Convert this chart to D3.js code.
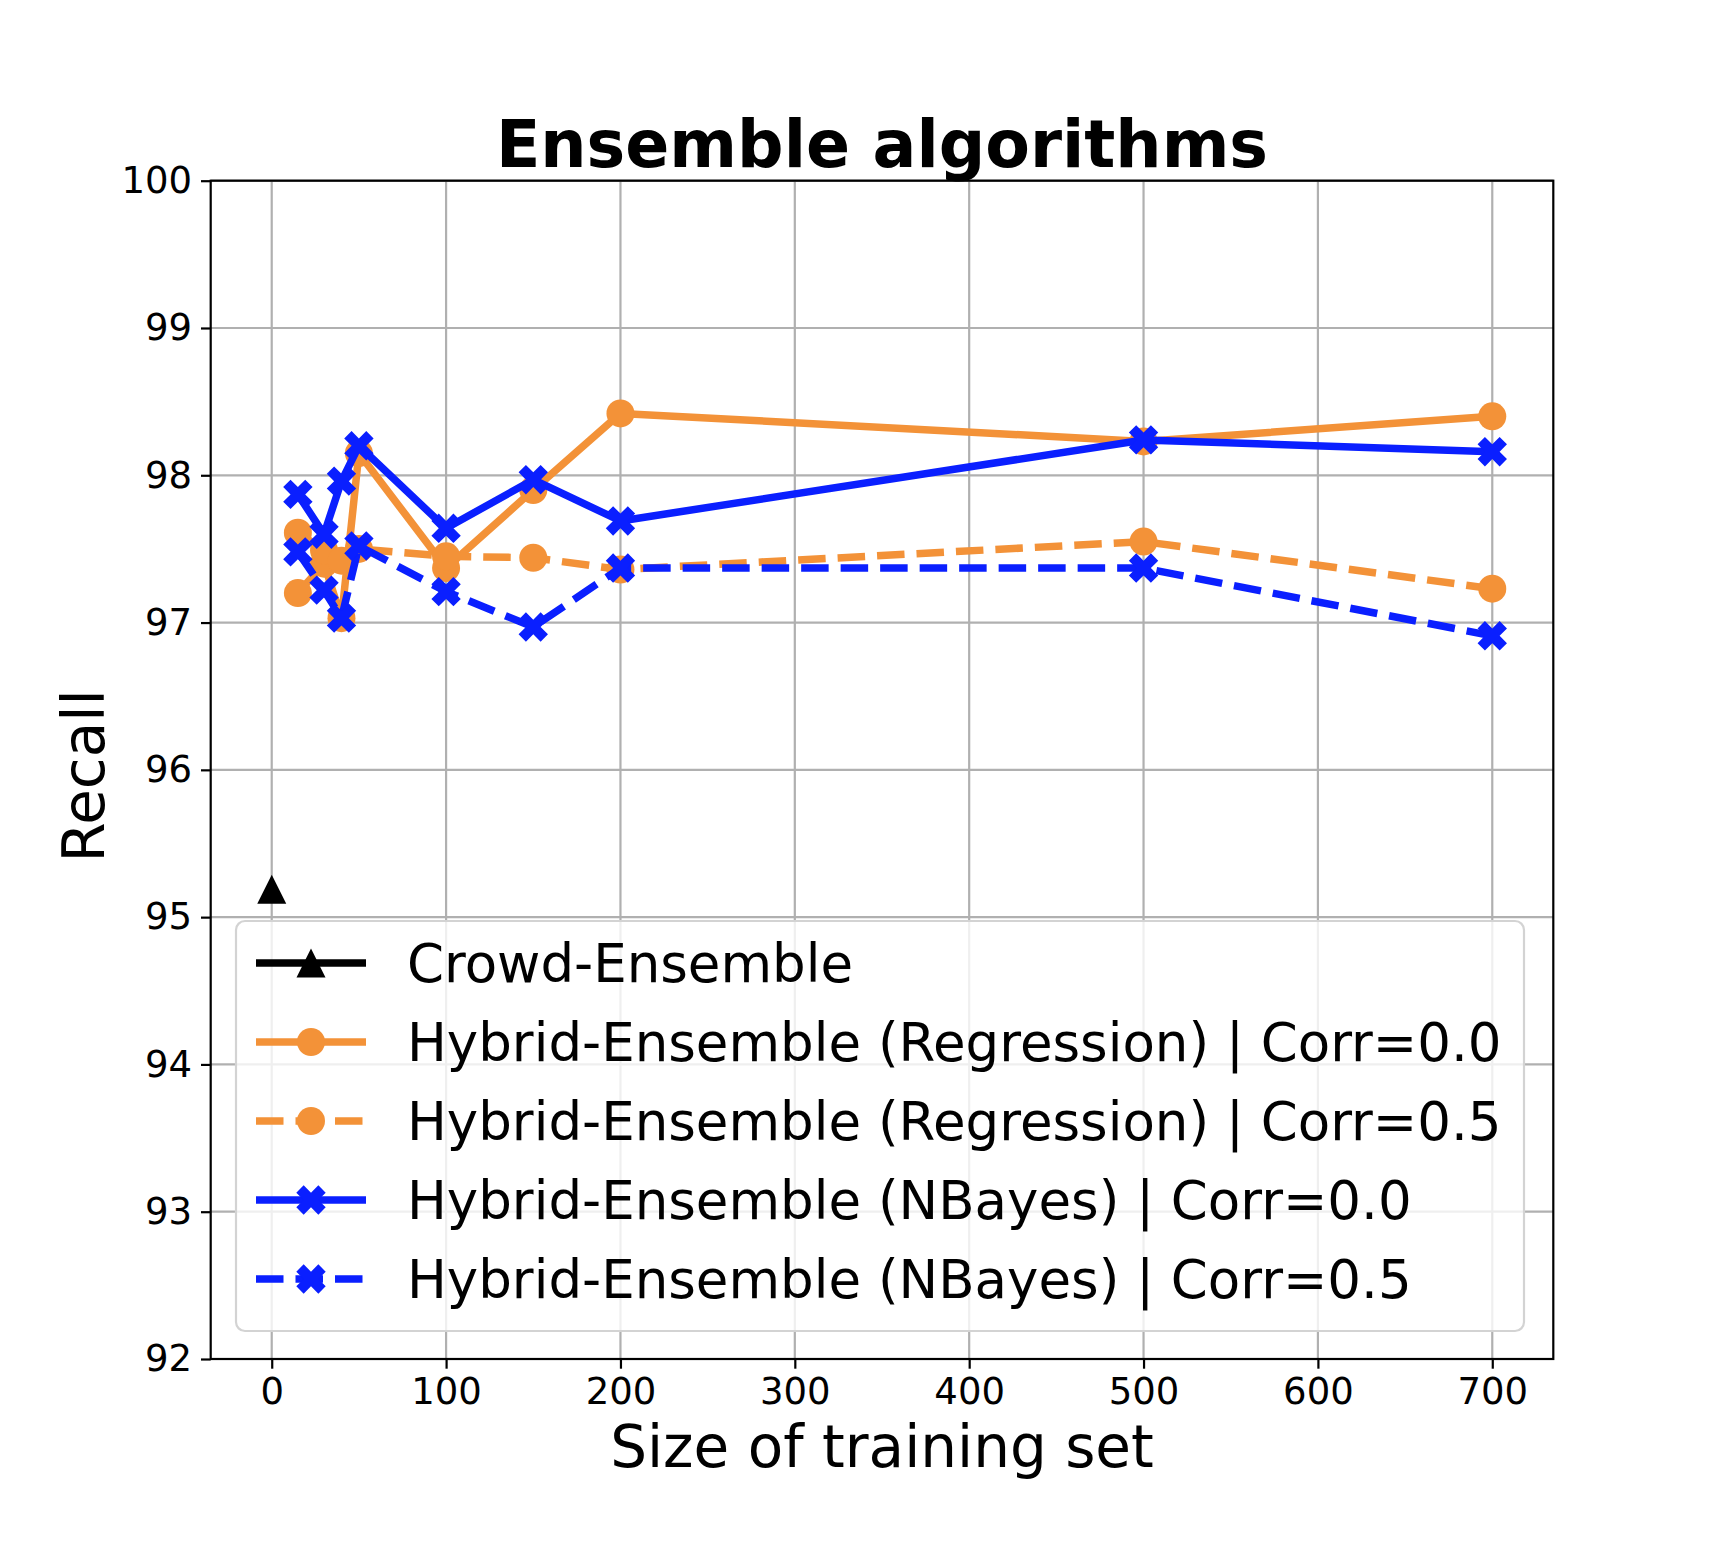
<!DOCTYPE html>
<html>
<head>
<meta charset="utf-8">
<script src="https://cdn.jsdelivr.net/npm/d3@7"></script>
<style>
  body { margin: 0; background: #fff; }
  svg { display: block; font-family: "DejaVu Sans", sans-serif; }
</style>
</head>
<body>
<div id="chart"></div>
<script>
// training set sizes
const sizes = [15, 30, 40, 50, 100, 150, 200, 500, 700];
const regCorr00 = [97.20, 97.40, 97.03, 98.15, 97.37, 97.90, 98.42, 98.23, 98.40];
const regCorr05 = [97.61, 97.49, 97.42, 97.50, 97.45, 97.44, 97.36, 97.55, 97.23];
const nbCorr00 = [97.87, 97.60, 97.96, 98.20, 97.64, 97.97, 97.69, 98.24, 98.16];
const nbCorr05 = [97.48, 97.22, 97.03, 97.52, 97.21, 96.97, 97.37, 97.37, 96.91];
const crowdSizes = [0];
const crowdRecall = [95.19];

const xTicks = [0, 100, 200, 300, 400, 500, 600, 700];
const yTicks = [92, 93, 94, 95, 96, 97, 98, 99, 100];

const W = 1722, H = 1554;
const plotL = 210.7, plotR = 1553.3, plotT = 180.7, plotB = 1359;

const orange = "#f39238", blue = "#0a1fff";

const series = [
  { name: "Crowd-Ensemble", xs: crowdSizes, ys: crowdRecall, color: "#000", dash: null, marker: "tri" },
  { name: "Hybrid-Ensemble (Regression) | Corr=0.0", xs: sizes, ys: regCorr00, color: orange, dash: null, marker: "circle" },
  { name: "Hybrid-Ensemble (Regression) | Corr=0.5", xs: sizes, ys: regCorr05, color: orange, dash: "27.5,12", marker: "circle" },
  { name: "Hybrid-Ensemble (NBayes) | Corr=0.0", xs: sizes, ys: nbCorr00, color: blue, dash: null, marker: "x" },
  { name: "Hybrid-Ensemble (NBayes) | Corr=0.5", xs: sizes, ys: nbCorr05, color: blue, dash: "27.5,12", marker: "x" }
];

const svg = d3.select("#chart").append("svg")
    .attr("width", W)
    .attr("height", H);

const x = d3.scaleLinear().domain([-35, 735]).range([plotL, plotR]);
const y = d3.scaleLinear().domain([92, 100]).range([plotB, plotT]);

// grid
svg.append("g")
  .selectAll("line")
  .data(xTicks)
  .join("line")
    .attr("x1", d => x(d)).attr("x2", d => x(d))
    .attr("y1", plotT).attr("y2", plotB)
    .attr("stroke", "#b0b0b0").attr("stroke-width", 2.2);
svg.append("g")
  .selectAll("line")
  .data(yTicks)
  .join("line")
    .attr("x1", plotL).attr("x2", plotR)
    .attr("y1", d => y(d)).attr("y2", d => y(d))
    .attr("stroke", "#b0b0b0").attr("stroke-width", 2.2);

// axes
const xAxis = svg.append("g")
    .attr("transform", `translate(0,${plotB})`)
    .call(d3.axisBottom(x).tickValues(xTicks).tickSize(9.7).tickPadding(9).tickSizeOuter(0));
const yAxis = svg.append("g")
    .attr("transform", `translate(${plotL},0)`)
    .call(d3.axisLeft(y).tickValues(yTicks).tickSize(9.7).tickPadding(9).tickSizeOuter(0));
[xAxis, yAxis].forEach(a => {
  a.select(".domain").remove();
  a.selectAll("line").attr("stroke", "#000").attr("stroke-width", 2.2);
  a.selectAll("text")
    .attr("fill", "#000")
    .style("font-size", "37px")
    .style("font-family", "DejaVu Sans, sans-serif");
});

function markerPath(type) {
  if (type === "circle") return d3.symbol(d3.symbolCircle, Math.PI * 14 * 14)();
  if (type === "tri") return "M0,-14.5 L14.5,14.5 L-14.5,14.5 Z";
  return d3.symbol(d3.symbolCross, 540)();
}

// lines + markers
const line = d3.line().x(d => x(d[0])).y(d => y(d[1]));
series.forEach(s => {
  const pts = s.xs.map((v, i) => [v, s.ys[i]]);
  const g = svg.append("g");
  g.append("path")
    .datum(pts)
    .attr("d", line)
    .attr("fill", "none")
    .attr("stroke", s.color)
    .attr("stroke-width", 7.5)
    .attr("stroke-linejoin", "round")
    .attr("stroke-dasharray", s.dash);
  g.selectAll("path.m")
    .data(pts)
    .join("path")
      .attr("class", "m")
      .attr("d", markerPath(s.marker))
      .attr("transform", d => `translate(${x(d[0])},${y(d[1])})` + (s.marker === "x" ? " rotate(45)" : ""))
      .attr("fill", s.color);
});

// frame
svg.append("rect")
    .attr("x", plotL).attr("y", plotT)
    .attr("width", plotR - plotL).attr("height", plotB - plotT)
    .attr("fill", "none").attr("stroke", "#000").attr("stroke-width", 2.2);

// legend
const legend = svg.append("g");
legend.append("rect")
    .attr("x", 236).attr("y", 921)
    .attr("width", 1288).attr("height", 410)
    .attr("rx", 9)
    .attr("fill", "#fff").attr("fill-opacity", 0.8)
    .attr("stroke", "#d3d3d3").attr("stroke-width", 2.2);
const rowY = d3.scaleLinear().domain([0, 4]).range([963, 1279]);
series.forEach((s, i) => {
  const yy = rowY(i);
  legend.append("line")
    .attr("x1", 256).attr("x2", 366)
    .attr("y1", yy).attr("y2", yy)
    .attr("stroke", s.color).attr("stroke-width", 7.5)
    .attr("stroke-dasharray", s.dash ? "27.5,12" : null);
  legend.append("path")
    .attr("d", markerPath(s.marker))
    .attr("transform", `translate(311,${yy})` + (s.marker === "x" ? " rotate(45)" : ""))
    .attr("fill", s.color);
  legend.append("text")
    .attr("x", 407).attr("y", yy + 19)
    .style("font-size", "53px")
    .attr("fill", "#000")
    .text(s.name);
});

// title + labels
svg.append("text")
    .attr("x", (plotL + plotR) / 2).attr("y", 167)
    .attr("text-anchor", "middle")
    .style("font-size", "65px").style("font-weight", "bold")
    .text("Ensemble algorithms");

svg.append("text")
    .attr("x", (plotL + plotR) / 2).attr("y", 1467)
    .attr("text-anchor", "middle")
    .style("font-size", "58px")
    .text("Size of training set");

svg.append("text")
    .attr("transform", `translate(104,776) rotate(-90)`)
    .attr("text-anchor", "middle")
    .style("font-size", "58px")
    .text("Recall");
</script>
</body>
</html>
